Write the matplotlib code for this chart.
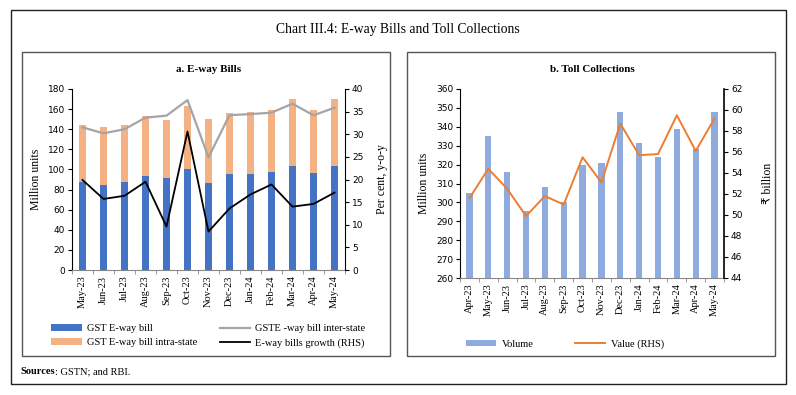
import numpy as np
import matplotlib
matplotlib.use("Agg")
import matplotlib.pyplot as plt
from matplotlib.patches import Rectangle
from matplotlib.ticker import FixedLocator

plt.rcParams['font.family'] = ['Liberation Serif', 'DejaVu Sans']

# panel a: e-way bills
months_a = ["May-23", "Jun-23", "Jul-23", "Aug-23", "Sep-23", "Oct-23", "Nov-23",
            "Dec-23", "Jan-24", "Feb-24", "Mar-24", "Apr-24", "May-24"]
eway_inter = [88, 85, 87.5, 93, 91.5, 100, 87, 95, 95.5, 97, 103, 96, 103]
eway_total = [144.5, 142, 144.5, 153, 149.5, 163, 150, 156, 157, 159.5, 170, 159, 170]
eway_intra = [t - b for t, b in zip(eway_total, eway_inter)]
gste_line = [141.9, 135.9, 140, 151.5, 153.5, 169, 112, 154, 155, 156.5, 165.4, 153.8, 161.4]
growth = [19.9, 15.7, 16.4, 19.5, 9.6, 30.6, 8.5, 13.6, 16.7, 18.9, 14.0, 14.6, 17.1]

# panel b: toll collections
months_b = ["Apr-23"] + months_a
toll_volume = [305.2, 335.3, 316.2, 295.2, 308.2, 300.3, 319.7, 321, 348, 331.4, 323.8, 338.8, 328, 347.6]
toll_value = [51.6, 54.4, 52.5, 49.9, 51.8, 51.0, 55.5, 53.1, 58.7, 55.7, 55.8, 59.5, 56.1, 59.2]

W, H = 796, 395
fig = plt.figure(figsize=(W / 100, H / 100), dpi=100)


def box(x0, y0, x1, y1, **kw):
    fig.patches.append(Rectangle((x0 / W, 1 - y1 / H), (x1 - x0) / W, (y1 - y0) / H,
                                 transform=fig.transFigure, fill=False, **kw))


def axes_px(x0, y0, x1, y1):
    return fig.add_axes([x0 / W, 1 - y1 / H, (x1 - x0) / W, (y1 - y0) / H])


box(11, 10, 786, 384, lw=1.0, ec='#222222')
box(22, 52, 390, 356, lw=1.0, ec='#555555')
box(407, 52, 775, 356, lw=1.0, ec='#555555')

fig.text(398 / W, 1 - 30 / H, "Chart III.4: E-way Bills and Toll Collections",
         ha='center', va='center', fontsize=9.8)

tick_font = dict(family='DejaVu Sans', size=6.5)


def style(ax, n):
    ax.set_xlim(-0.5, n - 0.5)
    ax.set_xticks(np.arange(n))
    ax.xaxis.set_minor_locator(FixedLocator(np.arange(n + 1) - 0.5))
    ax.tick_params(axis='x', which='major', length=0, pad=4)
    ax.tick_params(axis='x', which='minor', length=3, color='#888888')
    ax.spines['top'].set_visible(False)
    ax.spines['right'].set_visible(False)
    ax.tick_params(axis='y', length=3, width=0.8, pad=2)
    for lbl in ax.get_yticklabels():
        lbl.set_fontproperties(tick_font)


# ---- panel a ----
xa = np.arange(len(months_a))
ax1 = axes_px(72, 89, 345, 270)
b1 = ax1.bar(xa, eway_inter, width=0.36, color='#4472c4', label='GST E-way bill')
b2 = ax1.bar(xa, eway_intra, width=0.36, bottom=eway_inter, color='#f4b183',
             label='GST E-way bill intra-state')
l1, = ax1.plot(xa, gste_line, color='#a5a5a5', lw=1.6, label='GSTE -way bill inter-state')
ax1.set_ylim(0, 180)
ax1.set_yticks(np.arange(0, 181, 20))
ax1.set_xticks(xa)
ax1.set_xticklabels(months_a, rotation=90, fontsize=7.5)
style(ax1, len(months_a))
ax1.spines['bottom'].set_color('#888888')
ax1.set_ylabel("Million units", fontsize=8.5, labelpad=4)
ax1.set_title("a. E-way Bills", fontsize=8, fontweight='bold', pad=12)

ax1r = ax1.twinx()
l2, = ax1r.plot(xa, growth, color='black', lw=1.3, label='E-way bills growth (RHS)')
ax1r.set_ylim(0, 40)
ax1r.set_yticks(np.arange(0, 41, 5))
ax1r.spines['top'].set_visible(False)
ax1r.spines['left'].set_visible(False)
ax1r.spines['bottom'].set_visible(False)
ax1r.tick_params(axis='y', length=3, width=0.8, pad=2)
for lbl in ax1r.get_yticklabels():
    lbl.set_fontproperties(tick_font)
ax1r.set_ylabel("Per cent, y-o-y", fontsize=8.5, labelpad=9)

fig.legend([b1, b2, l1, l2],
           ['GST E-way bill', 'GST E-way bill intra-state', 'GSTE -way bill inter-state',
            'E-way bills growth (RHS)'],
           ncol=2, loc='center left', bbox_to_anchor=(42 / W, 1 - 336 / H),
           frameon=False, fontsize=7.5, handlelength=2.9, handleheight=0.6,
           columnspacing=2.2, labelspacing=0.45, handletextpad=0.5)

# ---- panel b ----
xb = np.arange(len(months_b))
ax2 = axes_px(460, 89, 724, 278)
b3 = ax2.bar(xb, toll_volume, width=0.34, color='#8faadc', label='Volume')
ax2.set_ylim(260, 360)
ax2.set_yticks(np.arange(260, 361, 10))
ax2.set_xticks(xb)
ax2.set_xticklabels(months_b, rotation=90, fontsize=7.5)
style(ax2, len(months_b))
ax2.spines['bottom'].set_color('#888888')
ax2.set_ylabel("Million units", fontsize=8.5, labelpad=4)
ax2.set_title("b. Toll Collections", fontsize=8, fontweight='bold', pad=12)

ax2r = ax2.twinx()
l3, = ax2r.plot(xb, toll_value, color='#ed7d31', lw=1.4, label='Value (RHS)')
ax2r.set_ylim(44, 62)
ax2r.set_yticks(np.arange(44, 63, 2))
ax2r.spines['top'].set_visible(False)
ax2r.spines['left'].set_visible(False)
ax2r.spines['bottom'].set_visible(False)
ax2r.spines['right'].set_linewidth(1.2)
ax2r.tick_params(axis='y', length=3, width=0.8, pad=2)
for lbl in ax2r.get_yticklabels():
    lbl.set_fontproperties(tick_font)
ax2r.set_ylabel("₹ billion", fontsize=8.5, labelpad=14)

fig.legend([b3, l3], ['Volume', 'Value (RHS)'], ncol=2, loc='center',
           bbox_to_anchor=(565 / W, 1 - 344 / H), frameon=False, fontsize=7.5,
           handlelength=2.9, handleheight=0.6, columnspacing=4.0, handletextpad=0.5)

# sources line: bold label followed by plain text
src = fig.text(20 / W, 1 - 372 / H, "Sources", ha='left', va='center',
               fontsize=7.5, fontweight='bold')
ax1.annotate(": GSTN; and RBI.", xy=(1, 0.5), xycoords=src, va='center', ha='left',
             fontsize=7.5, annotation_clip=False)

fig.savefig("out.png", dpi=100)
